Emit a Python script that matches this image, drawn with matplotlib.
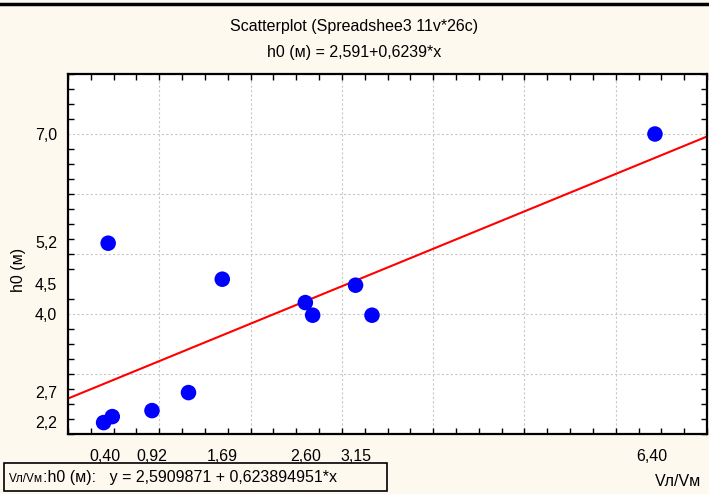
import numpy as np
import matplotlib
matplotlib.use("Agg")
import matplotlib.pyplot as plt
from matplotlib.patches import Rectangle
from matplotlib.text import Annotation
from matplotlib.ticker import MultipleLocator, FixedLocator

plt.rcParams["font.family"] = ["Liberation Sans", "DejaVu Sans"]

# data
v_ratio = [0.39, 0.485, 0.44, 0.92, 1.32, 1.69, 2.60, 2.68, 3.15, 3.33, 6.43]
h0 = [2.19, 2.29, 5.18, 2.39, 2.69, 4.58, 4.19, 3.98, 4.48, 3.98, 7.00]

intercept = 2.591
slope = 0.6239

x_ticks = [0.40, 0.92, 1.69, 2.60, 3.15, 6.40]
x_labels = ["0,40", "0,92", "1,69", "2,60", "3,15", "6,40"]
y_ticks = [2.2, 2.7, 4.0, 4.5, 5.2, 7.0]
y_labels = ["2,2", "2,7", "4,0", "4,5", "5,2", "7,0"]

title1 = "Scatterplot (Spreadshee3 11v*26c)"
title2 = "h0 (м) = 2,591+0,6239*x"
footer = ":h0 (м):   y = 2,5909871 + 0,623894951*x"

bg = "#fef9ee"
W, H = 709, 494
fs = 11.5

fig = plt.figure(figsize=(W / 100, H / 100), dpi=100, facecolor=bg)
ax = fig.add_axes([68 / W, 1 - 434 / H, (707 - 68) / W, (434 - 74) / H])
ax.set_facecolor("white")

ax.set_xlim(0, 7)
ax.set_ylim(2, 8)

# grid at whole units
for gx in range(1, 7):
    ax.axvline(gx, color="#c8c8c8", lw=0.8, ls=(0, (2, 2)), zorder=0)
for gy in range(3, 8):
    ax.axhline(gy, color="#c8c8c8", lw=0.8, ls=(0, (2, 2)), zorder=0)

# regression line
xs = np.array([0, 7])
ax.plot(xs, intercept + slope * xs, color="red", lw=1.5, zorder=2)

ax.scatter(v_ratio, h0, s=125, color="#0000ff", edgecolors="none", zorder=3)

# ticks
ax.xaxis.set_major_locator(FixedLocator(x_ticks))
ax.set_xticklabels(x_labels)
ax.yaxis.set_major_locator(FixedLocator(y_ticks))
ax.set_yticklabels(y_labels)
ax.xaxis.set_minor_locator(MultipleLocator(0.25))
ax.yaxis.set_minor_locator(MultipleLocator(0.25))
ax.tick_params(which="major", length=0, labelsize=fs)
ax.tick_params(axis="x", which="major", pad=11)
ax.tick_params(axis="y", which="major", pad=8)
ax.tick_params(which="minor", direction="in", length=4, width=1,
               top=True, right=True, bottom=True, left=True)

for sp in ax.spines.values():
    sp.set_linewidth(1.6)
    sp.set_color("black")

# titles
fig.text(0.5, 1 - 27 / H, title1, ha="center", va="center", fontsize=fs)
fig.text(0.5, 1 - 52 / H, title2, ha="center", va="center", fontsize=fs)

# top border line
fig.add_artist(plt.Line2D([0, 1], [1 - 4 / H, 1 - 4 / H], color="black", lw=2.5))

# axis labels
fig.text(18 / W, 1 - 270 / H, "h0 (м)", rotation=90, ha="center", va="center", fontsize=fs)
fig.text(678 / W, 1 - 481 / H, "Vл/Vм", ha="center", va="center", fontsize=fs)

# footer box
fig.add_artist(Rectangle((4 / W, 1 - 491 / H), (387 - 4) / W, (491 - 463) / H,
                         transform=fig.transFigure, fill=False,
                         edgecolor="black", lw=1.2))
t1 = fig.text(9 / W, 1 - 482 / H, "Vл/Vм", ha="left", va="baseline", fontsize=8.5)
fig.add_artist(Annotation(footer, xy=(1, 0), xycoords=t1,
                          va="bottom", ha="left", fontsize=fs))

fig.savefig("out.png", dpi=100, facecolor=bg)
